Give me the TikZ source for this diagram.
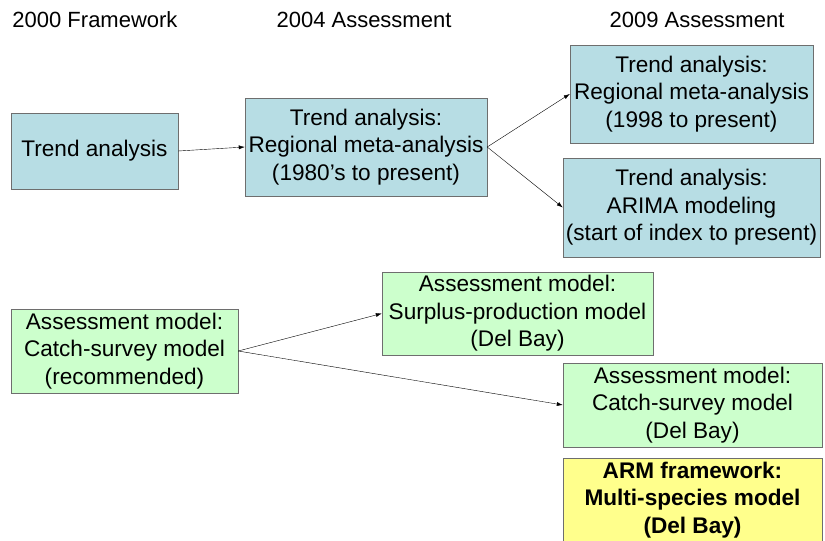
\documentclass[tikz,border=0pt]{standalone}
\usepackage{fontspec}
\setmainfont{Liberation Sans}
\usetikzlibrary{arrows.meta}
\definecolor{trendblue}{RGB}{183,221,228}
\definecolor{modelgreen}{RGB}{204,255,204}
\definecolor{armyellow}{RGB}{255,255,140}
\definecolor{boxgray}{RGB}{110,110,110}
\tikzset{
  boxtext/.style={font=\fontsize{22.6}{27.5}\selectfont},
  trendbox/.style={draw=boxgray, fill=trendblue, align=center, inner sep=1pt, boxtext},
  modelbox/.style={draw=boxgray, fill=modelgreen, align=center, inner sep=1pt, boxtext},
  armbox/.style={draw=boxgray, fill=armyellow, align=center, inner sep=1pt, font=\fontsize{22.6}{27.5}\selectfont\bfseries},
  yearhead/.style={font=\fontsize{22}{26}\selectfont},
  link/.style={-{Latex[length=6pt,width=4pt]}, thin}
}
\begin{document}
\begin{tikzpicture}[x=1pt, y=-1pt]
\useasboundingbox (0,0) rectangle (825,541);

% column heads
\node[yearhead] (head00) at (95,20) {2000 Framework};
\node[yearhead] (head04) at (364,20) {2004 Assessment};
\node[yearhead] (head09) at (697,20) {2009 Assessment};

% trend analysis row
\node[trendbox, minimum width=167pt, minimum height=76pt] (trend00) at (94.5,151) {Trend analysis};
\node[trendbox, minimum width=242pt, minimum height=98pt] (trend04) at (366,147) {Trend analysis:\\Regional meta-analysis\\(1980's to present)};
\node[trendbox, minimum width=243pt, minimum height=98pt] (trend09a) at (691.5,94) {Trend analysis:\\Regional meta-analysis\\(1998 to present)};
\node[trendbox, minimum width=257pt, minimum height=99pt] (trend09b) at (691.5,207.5) {Trend analysis:\\ARIMA modeling\\(start of index to present)};

% assessment model row
\node[modelbox, minimum width=227pt, minimum height=84pt] (model00) at (124.5,351) {Assessment model:\\Catch-survey model\\(recommended)};
\node[modelbox, minimum width=271pt, minimum height=83pt] (model04) at (517.5,313.5) {Assessment model:\\Surplus-production model\\(Del Bay)};
\node[modelbox, minimum width=259pt, minimum height=84pt] (model09) at (692.5,405) {Assessment model:\\Catch-survey model\\(Del Bay)};
\node[armbox, minimum width=259pt, minimum height=84pt] (arm09) at (692.5,500) {ARM framework:\\Multi-species model\\(Del Bay)};

\draw[link] (trend00.east) -- (trend04.west);
\draw[link] (trend04.east) -- (trend09a.west);
\draw[link] (trend04.east) -- (trend09b.west);
\draw[link] (model00.east) -- (model04.west);
\draw[link] (model00.east) -- (model09.west);

\end{tikzpicture}
\end{document}
